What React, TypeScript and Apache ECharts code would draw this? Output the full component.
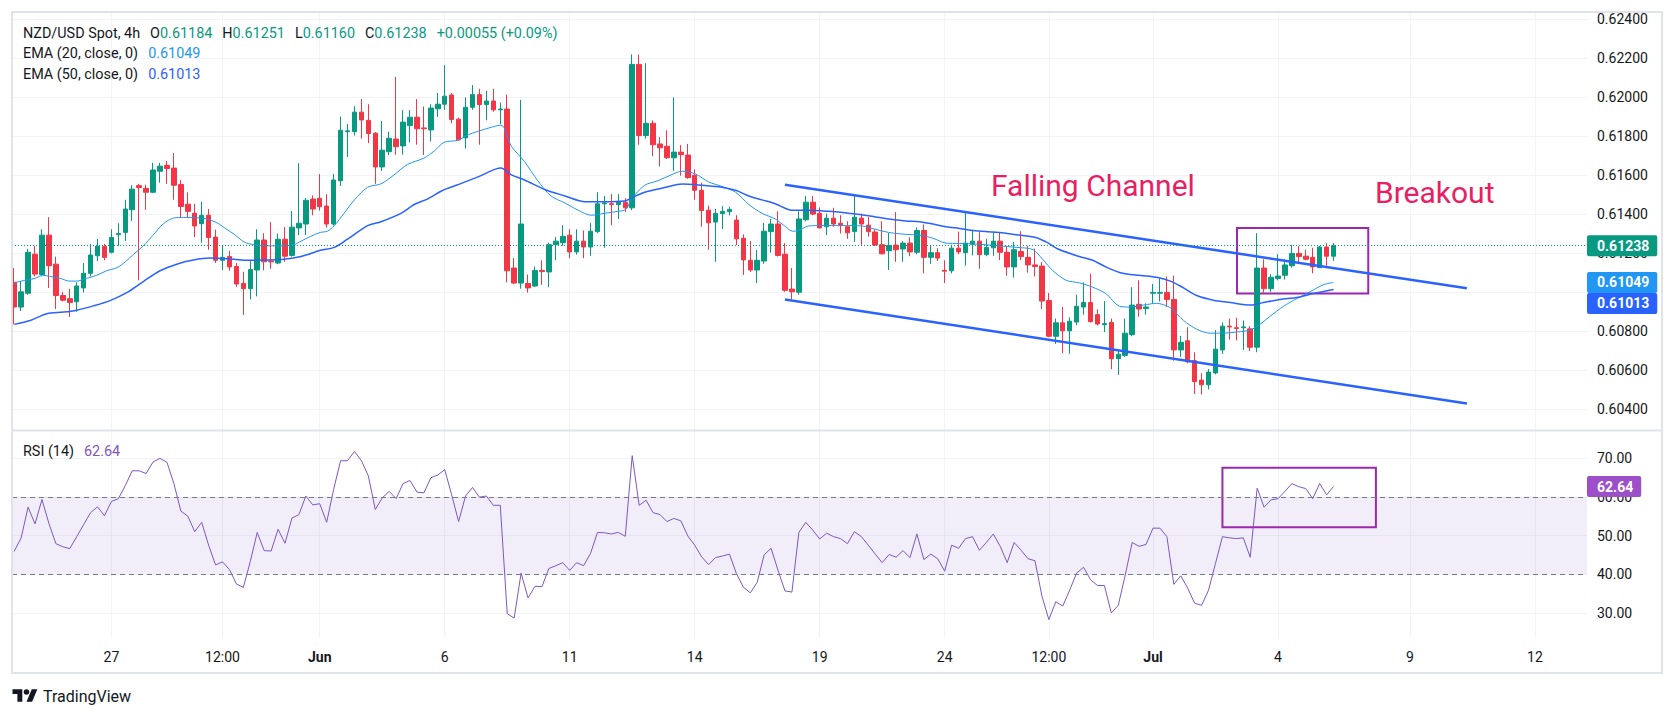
import React, { useEffect, useRef } from 'react';
import * as echarts from 'echarts';

const FONT = 'Roboto, "Noto Sans", "DejaVu Sans", sans-serif';
const UP = '#089981';
const DOWN = '#f23645';
const TXT = '#131722';
const GRIDC = '#f0f3fa';

const opens = [
  0.61050,0.60923,0.60994,0.61194,0.61090,0.61292,0.61143,0.60982,0.60966,0.60950,
  0.61021,0.61096,0.61186,0.61235,0.61204,0.61294,0.61306,0.61422,0.61546,0.61532,
  0.61512,0.61620,0.61650,0.61636,0.61552,0.61451,0.61404,0.61351,0.61394,0.61282,
  0.61163,0.61182,0.61131,0.61044,0.61017,0.61113,0.61267,0.61159,0.61149,0.61271,
  0.61188,0.61329,0.61349,0.61477,0.61481,0.61441,0.61349,0.61571,0.61823,0.61823,
  0.61923,0.61881,0.61815,0.61642,0.61720,0.61785,0.61750,0.61854,0.61897,0.61842,
  0.61832,0.61940,0.61964,0.62011,0.61887,0.61791,0.61948,0.62013,0.61962,0.61980,
  0.61935,0.61939,0.61123,0.61046,0.61044,0.61031,0.61111,0.61103,0.61243,0.61253,
  0.61292,0.61206,0.61261,0.61231,0.61310,0.61453,0.61453,0.61449,0.61461,0.61432,
  0.62168,0.61803,0.61866,0.61760,0.61748,0.61689,0.61718,0.61703,0.61599,0.61522,
  0.61420,0.61359,0.61402,0.61412,0.61369,0.61276,0.61163,0.61113,0.61159,0.61310,
  0.61349,0.61194,0.61015,0.60999,0.61371,0.61461,0.61404,0.61335,0.61379,0.61353,
  0.61335,0.61310,0.61379,0.61343,0.61308,0.61243,0.61212,0.61241,0.61221,0.61251,
  0.61204,0.61316,0.61178,0.61202,0.61111,0.61109,0.61225,0.61202,0.61245,0.61261,
  0.61192,0.61227,0.61261,0.61204,0.61129,0.61208,0.61178,0.61139,0.61133,0.60956,
  0.60773,0.60842,0.60801,0.60846,0.60923,0.60946,0.60884,0.60832,0.60844,0.60658,
  0.60675,0.60781,0.60937,0.60915,0.60994,0.60994,0.60998,0.60962,0.60703,0.60750,
  0.60648,0.60548,0.60524,0.60585,0.60703,0.60825,0.60817,0.60817,0.60811,0.60717,
  0.61123,0.61017,0.61070,0.61086,0.61135,0.61198,0.61184,0.61178,0.61125,0.61231,
  0.61184,
];
const closes = [
  0.60923,0.61001,0.61204,0.61092,0.61292,0.61135,0.60982,0.60958,0.60946,0.61031,
  0.61096,0.61190,0.61235,0.61178,0.61280,0.61300,0.61426,0.61528,0.61536,0.61512,
  0.61626,0.61646,0.61634,0.61548,0.61439,0.61414,0.61339,0.61394,0.61280,0.61163,
  0.61178,0.61129,0.61041,0.61017,0.61115,0.61267,0.61155,0.61155,0.61271,0.61184,
  0.61333,0.61353,0.61471,0.61426,0.61438,0.61349,0.61575,0.61830,0.61827,0.61923,
  0.61883,0.61813,0.61642,0.61728,0.61789,0.61746,0.61872,0.61897,0.61838,0.61838,
  0.61944,0.61964,0.62005,0.61885,0.61781,0.61948,0.62013,0.61962,0.61980,0.61935,
  0.61939,0.61109,0.61046,0.61349,0.61021,0.61111,0.61105,0.61243,0.61261,0.61286,
  0.61206,0.61261,0.61231,0.61312,0.61453,0.61457,0.61449,0.61461,0.61432,0.62168,
  0.61803,0.61866,0.61756,0.61740,0.61689,0.61718,0.61705,0.61587,0.61522,0.61418,
  0.61355,0.61404,0.61414,0.61424,0.61273,0.61165,0.61113,0.61163,0.61312,0.61349,
  0.61188,0.61009,0.61001,0.61375,0.61461,0.61400,0.61329,0.61379,0.61349,0.61341,
  0.61304,0.61384,0.61349,0.61310,0.61241,0.61196,0.61239,0.61217,0.61251,0.61206,
  0.61316,0.61178,0.61202,0.61174,0.61107,0.61225,0.61206,0.61251,0.61261,0.61192,
  0.61229,0.61261,0.61204,0.61129,0.61217,0.61182,0.61139,0.61131,0.60954,0.60773,
  0.60842,0.60801,0.60850,0.60927,0.60946,0.60848,0.60836,0.60838,0.60658,0.60681,
  0.60789,0.60933,0.60913,0.60923,0.60998,0.60998,0.60962,0.60703,0.60742,0.60642,
  0.60540,0.60524,0.60589,0.60707,0.60825,0.60821,0.60813,0.60821,0.60717,0.61123,
  0.61017,0.61076,0.61082,0.61139,0.61198,0.61182,0.61168,0.61129,0.61231,0.61184,
  0.61238,
];
const highs = [
  0.61123,0.61056,0.61222,0.61237,0.61322,0.61384,0.61182,0.61001,0.61017,0.61050,
  0.61149,0.61247,0.61272,0.61247,0.61322,0.61353,0.61473,0.61548,0.61555,0.61551,
  0.61663,0.61663,0.61673,0.61713,0.61575,0.61512,0.61453,0.61463,0.61426,0.61320,
  0.61237,0.61212,0.61149,0.61104,0.61159,0.61322,0.61302,0.61359,0.61300,0.61333,
  0.61416,0.61661,0.61483,0.61496,0.61605,0.61502,0.61606,0.61901,0.61862,0.61954,
  0.61990,0.61964,0.61821,0.61878,0.61823,0.62104,0.61933,0.61933,0.61990,0.61952,
  0.61964,0.62021,0.62164,0.62021,0.61895,0.61999,0.62062,0.62043,0.62033,0.62043,
  0.61972,0.62013,0.61174,0.61986,0.61090,0.61131,0.61163,0.61253,0.61282,0.61343,
  0.61322,0.61322,0.61316,0.61355,0.61512,0.61493,0.61502,0.61502,0.61481,0.62219,
  0.62219,0.62174,0.61881,0.61795,0.61830,0.61999,0.61754,0.61760,0.61630,0.61561,
  0.61443,0.61426,0.61441,0.61437,0.61394,0.61296,0.61261,0.61216,0.61355,0.61375,
  0.61414,0.61251,0.61123,0.61414,0.61493,0.61493,0.61434,0.61402,0.61432,0.61394,
  0.61363,0.61496,0.61402,0.61384,0.61322,0.61363,0.61302,0.61410,0.61261,0.61280,
  0.61332,0.61347,0.61237,0.61225,0.61163,0.61243,0.61310,0.61410,0.61320,0.61308,
  0.61273,0.61310,0.61306,0.61237,0.61257,0.61312,0.61237,0.61223,0.61153,0.60995,
  0.60864,0.60923,0.60870,0.60986,0.61050,0.61094,0.60911,0.60954,0.60864,0.60697,
  0.60864,0.61025,0.61060,0.60942,0.61041,0.61070,0.61080,0.61084,0.60775,0.60819,
  0.60691,0.60583,0.60605,0.60805,0.60844,0.60864,0.60868,0.60854,0.60825,0.61302,
  0.61168,0.61092,0.61194,0.61168,0.61241,0.61235,0.61218,0.61227,0.61237,0.61251,
  0.61251,
];
const lows = [
  0.60834,0.60903,0.60986,0.61080,0.61080,0.61021,0.60913,0.60952,0.60872,0.60899,
  0.60997,0.61080,0.61159,0.61163,0.61198,0.61237,0.61261,0.61365,0.61060,0.61422,
  0.61508,0.61561,0.61555,0.61473,0.61379,0.61384,0.61282,0.61253,0.61217,0.61149,
  0.61113,0.61109,0.61027,0.60883,0.60962,0.60978,0.61111,0.61119,0.61143,0.61155,
  0.61182,0.61292,0.61292,0.61394,0.61418,0.61331,0.61341,0.61544,0.61693,0.61803,
  0.61787,0.61764,0.61555,0.61622,0.61703,0.61705,0.61705,0.61768,0.61756,0.61703,
  0.61773,0.61899,0.61935,0.61866,0.61777,0.61736,0.61935,0.61756,0.61881,0.61925,
  0.61862,0.61050,0.61041,0.61017,0.60997,0.61025,0.61037,0.61025,0.61163,0.61237,
  0.61174,0.61192,0.61174,0.61186,0.61302,0.61227,0.61343,0.61375,0.61410,0.61420,
  0.61756,0.61787,0.61697,0.61644,0.61683,0.61622,0.61597,0.61581,0.61473,0.61335,
  0.61217,0.61155,0.61324,0.61394,0.61241,0.61088,0.61103,0.61046,0.61145,0.61202,
  0.61182,0.61001,0.60962,0.60986,0.61363,0.61394,0.61326,0.61292,0.61335,0.61300,
  0.61273,0.61257,0.61237,0.61284,0.61237,0.61194,0.61113,0.61155,0.61155,0.61184,
  0.61194,0.61096,0.61145,0.61159,0.61046,0.61096,0.61194,0.61135,0.61188,0.61119,
  0.61184,0.61186,0.61164,0.61084,0.61074,0.61163,0.61100,0.61080,0.60913,0.60768,
  0.60734,0.60687,0.60683,0.60829,0.60884,0.60844,0.60829,0.60795,0.60604,0.60575,
  0.60667,0.60773,0.60874,0.60884,0.60942,0.60952,0.60923,0.60648,0.60667,0.60634,
  0.60477,0.60475,0.60500,0.60577,0.60683,0.60756,0.60752,0.60703,0.60697,0.60691,
  0.60992,0.61001,0.61060,0.61064,0.61125,0.61149,0.61163,0.61096,0.61123,0.61129,
  0.61160,
];

const rsiValues = [
  45.9,49.4,57.3,53.0,59.3,53.1,47.9,47.1,46.6,49.7,52.8,55.9,57.4,55.1,58.8,59.5,62.9,66.7,66.7,66.0,
  69.0,69.9,68.9,63.4,56.3,55.0,51.0,53.4,47.5,42.4,43.2,41.2,37.5,
  36.6,43.3,50.8,46.1,46.0,51.6,48.0,54.5,55.4,60.2,57.9,58.2,53.4,61.9,69.3,69.3,71.7,69.3,65.4,56.7,
  59.7,61.4,59.5,63.4,64.2,61.2,61.0,64.9,65.6,67.0,60.5,53.6,
  60.2,62.4,59.9,60.2,57.8,57.8,29.8,28.7,40.3,33.9,36.9,36.8,41.5,42.2,43.0,41.0,43.0,42.2,45.4,50.8,
  50.7,50.4,50.8,49.8,70.6,57.8,59.1,55.9,55.4,53.6,54.4,53.8,
  49.9,47.5,44.5,42.5,44.3,44.7,45.2,40.2,36.7,35.2,37.9,45.0,46.7,41.0,35.7,35.4,50.8,53.4,51.4,49.1,
  50.6,49.7,49.2,47.9,51.0,49.7,47.5,45.2,43.0,45.1,44.4,46.1,44.3,
  50.4,43.8,45.2,44.0,40.8,47.5,46.7,49.2,49.7,46.2,48.2,50.4,47.2,43.0,48.2,46.2,44.0,43.5,34.4,28.3,
  32.9,31.8,35.9,40.3,41.8,38.6,37.1,37.1,30.0,32.0,39.8,48.2,
  47.2,47.7,51.9,51.9,49.7,37.4,39.6,36.4,32.5,32.0,35.9,42.8,49.7,49.4,49.2,49.4,44.4,62.2,57.3,59.2,
  59.5,61.4,63.4,62.6,62.1,59.5,63.4,60.5,62.64,
];

const ema20Points = [
  [0,0.61047],[1,0.61056],[3,0.61070],[4.1,0.61086],[5.1,0.61080],[6.6,0.61070],[8,0.61056],[9,0.61056],
  [10.4,0.61070],[11.9,0.61086],[13.3,0.61109],[14.8,0.61125],[16,0.61155],[17.2,0.61194],[18.6,0.61237],
  [20,0.61292],[21.5,0.61351],[22.9,0.61379],[24.4,0.61383],[26.3,0.61381],[27.7,0.61375],[29.2,0.61355],
  [30.6,0.61322],[31.7,0.61296],[33.1,0.61257],[34.5,0.61243],[36.5,0.61237],[38.4,0.61237],[40.3,0.61243],
  [41.3,0.61261],[42.7,0.61286],[44.1,0.61306],[45.1,0.61312],[46.1,0.61341],[47.5,0.61404],[49,0.61473],
  [50.9,0.61538],[52.8,0.61555],[54.7,0.61601],[56.6,0.61654],[59,0.61687],[60.5,0.61724],[61.9,0.61768],
  [63.9,0.61779],[65.4,0.61807],[67.8,0.61836],[70.1,0.61856],[71.6,0.61748],[73.5,0.61669],[75.4,0.61571],
  [77.3,0.61493],[79.3,0.61457],[81.2,0.61420],[83.1,0.61394],[85,0.61404],[86.9,0.61414],[88.1,0.61424],
  [88.9,0.61477],[90.8,0.61548],[92.7,0.61571],[94.6,0.61601],[96.2,0.61620],[98.1,0.61606],[100,0.61565],
  [101.9,0.61542],[103.9,0.61512],[105.8,0.61449],[107.7,0.61404],[109.6,0.61375],[111.1,0.61335],
  [112.1,0.61312],[113,0.61316],[114.4,0.61339],[116.3,0.61341],[119.2,0.61341],[122.1,0.61339],
  [124,0.61322],[125.9,0.61306],[128.4,0.61296],[130.4,0.61292],[132.3,0.61276],[134.2,0.61251],
  [136.1,0.61249],[138,0.61247],[139.9,0.61243],[141.9,0.61237],[144.3,0.61229],[146.7,0.61218],
  [148.1,0.61168],[149.6,0.61109],[151.5,0.61060],[153.4,0.61047],[155.3,0.61025],[157.2,0.60992],
  [159.2,0.60927],[160.7,0.60923],[162.6,0.60933],[164.5,0.60942],[166.5,0.60919],[168.4,0.60854],
  [170.3,0.60809],[172.2,0.60789],[174.1,0.60789],[176.1,0.60795],[178,0.60805],[179.4,0.60834],
  [180.8,0.60874],[182.8,0.60927],[184.7,0.60966],[186.6,0.61001],[188.5,0.61037],[190,0.61049],
];
const ema50Points = [
  [0,0.60834],[2.3,0.60854],[4.7,0.60889],[7.1,0.60897],[9,0.60907],[11.4,0.60929],[13.8,0.60956],
  [16.2,0.60997],[18.6,0.61054],[21,0.61109],[23.4,0.61143],[25.8,0.61164],[28.2,0.61174],[30.1,0.61172],
  [31.7,0.61168],[33.6,0.61163],[36.5,0.61164],[38.9,0.61168],[41.3,0.61182],[44.1,0.61214],[46.1,0.61229],
  [48,0.61271],[50.9,0.61341],[52.8,0.61361],[55.7,0.61404],[57.6,0.61449],[59.5,0.61477],[61.4,0.61516],
  [62.4,0.61532],[64.5,0.61559],[66.8,0.61591],[70.1,0.61636],[71.6,0.61601],[73.5,0.61575],[76.4,0.61526],
  [79.3,0.61493],[82.2,0.61463],[85,0.61463],[87.9,0.61467],[88.9,0.61483],[90.8,0.61512],[93.7,0.61536],
  [96.2,0.61555],[99.1,0.61548],[101.9,0.61538],[103.9,0.61522],[105.8,0.61493],[107.7,0.61473],
  [109.6,0.61453],[112,0.61420],[114.4,0.61420],[117.3,0.61414],[120.2,0.61404],[123,0.61391],
  [125.9,0.61375],[128.4,0.61365],[130.4,0.61361],[132.3,0.61349],[134.2,0.61335],[136.1,0.61326],
  [138,0.61316],[139.9,0.61310],[141.9,0.61306],[144.3,0.61294],[147.1,0.61280],[148.6,0.61257],
  [150.5,0.61218],[153.4,0.61182],[155.3,0.61163],[157.2,0.61129],[159.2,0.61100],[160.7,0.61090],
  [162.6,0.61084],[164.5,0.61076],[166.5,0.61056],[168.4,0.61021],[170.3,0.60982],[172.7,0.60958],
  [175.1,0.60946],[178.1,0.60933],[179.9,0.60946],[182.3,0.60962],[184.7,0.60972],[187.1,0.60992],
  [190,0.61013],
];

const priceTicks = [0.604,0.606,0.608,0.61,0.612,0.614,0.616,0.618,0.62,0.622,0.624];
const rsiTicks = [30,40,50,60,70];
const timeTickPos = [14,30,44,62,80,98,116,134,149,164,182,201,219];
const timeTickLabels = ['27','12:00','Jun','6','11','14','19','24','12:00','Jul','4','9','12'];
const monthLabels = ['Jun','Jul'];

const channelUpper = [[111, 0.61551],[209.2, 0.61019]];
const channelLower = [[111, 0.60962],[209.2, 0.60428]];
const breakoutBox = [[176.1, 0.61329],[195.0, 0.60992]];
const rsiBox = [[174.0, 67.5],[196.1, 52.1]];
const rsiBand = [40, 60];

const ema20Last = 0.61049;
const ema50Last = 0.61013;
const changeText = '+0.00055 (+0.09%)';

echarts.graphic.registerShape(
  'tvlogo',
  echarts.graphic.extendPath('M14 22H7V11H0V4h14v18zM28 22h-8l7.5-18h8L28 22zM24 8a4 4 0 1 1 -8 0a4 4 0 1 1 8 0z', {})
);

const XMIN = -0.317;
const XMAX = 226.5;

function buildOption() {
  const n = closes.length;
  const candles = closes.map((c, i) => [i, opens[i], c, lows[i], highs[i]]);
  const rsiData = rsiValues.map((v, i) => [i, v]);
  const lastO = opens[n - 1], lastH = highs[n - 1], lastL = lows[n - 1], lastC = closes[n - 1];
  const lastRsi = rsiValues[n - 1];

  const boxLabel = (text: string, bg: string, extra: any = {}) => ({
    show: true,
    position: 'end',
    distance: 0,
    formatter: text,
    color: '#ffffff',
    backgroundColor: bg,
    fontWeight: 'bold',
    fontSize: 14,
    fontFamily: FONT,
    padding: [4, 8, 3, 10],
    borderRadius: 2,
    ...extra,
  });

  const xAxisBase = (gridIndex: number, showLabel: boolean) => ({
    gridIndex,
    type: 'value',
    min: XMIN,
    max: XMAX,
    axisLine: { show: false },
    axisTick: { show: false, customValues: timeTickPos },
    axisLabel: {
      show: showLabel,
      customValues: timeTickPos,
      margin: 12,
      fontSize: 14,
      fontFamily: FONT,
      color: TXT,
      formatter: (v: number) => {
        const k = timeTickPos.indexOf(Math.round(v));
        if (k < 0) return '';
        const t = timeTickLabels[k];
        return monthLabels.includes(t) ? `{b|${t}}` : t;
      },
      rich: { b: { fontWeight: 'bold', fontSize: 14, fontFamily: FONT, color: TXT } },
    },
    splitLine: { show: true, lineStyle: { color: GRIDC, width: 1 } },
  });

  const HF = 14.4;
  const headerRich = {
    t: { fill: TXT, fontSize: HF, fontFamily: FONT },
    v: { fill: UP, fontSize: HF, fontFamily: FONT },
    e1: { fill: '#2196f3', fontSize: HF, fontFamily: FONT },
    e2: { fill: '#2962ff', fontSize: HF, fontFamily: FONT },
    r: { fill: '#7e57c2', fontSize: HF, fontFamily: FONT },
    s: { width: 10, fontSize: HF },
  };

  return {
    animation: false,
    backgroundColor: '#ffffff',
    grid: [
      { left: 12, top: 12, width: 1575, height: 418, outerBoundsMode: 'none' },
      { left: 12, top: 431, width: 1575, height: 207, outerBoundsMode: 'none' },
    ],
    xAxis: [xAxisBase(0, false), xAxisBase(1, true)],
    yAxis: [
      {
        gridIndex: 0,
        type: 'value',
        position: 'right',
        min: 0.60292,
        max: 0.62437,
        axisLine: { show: false },
        axisTick: { show: false, customValues: priceTicks },
        axisLabel: {
          customValues: priceTicks,
          formatter: (v: number) => v.toFixed(5),
          margin: 10,
          fontSize: 14,
          fontFamily: FONT,
          color: TXT,
        },
        splitLine: { show: true, lineStyle: { color: GRIDC, width: 1 } },
      },
      {
        gridIndex: 1,
        type: 'value',
        position: 'right',
        min: 23.55,
        max: 76.97,
        axisLine: { show: false },
        axisTick: { show: false, customValues: rsiTicks },
        axisLabel: {
          customValues: rsiTicks,
          formatter: (v: number) => v.toFixed(2),
          margin: 10,
          fontSize: 14,
          fontFamily: FONT,
          color: TXT,
        },
        splitLine: { show: true, lineStyle: { color: GRIDC, width: 1 } },
      },
    ],
    series: [
      {
        type: 'candlestick',
        xAxisIndex: 0,
        yAxisIndex: 0,
        data: candles,
        encode: { x: 0, y: [1, 2, 3, 4] },
        barWidth: 5,
        itemStyle: {
          color: UP,
          color0: DOWN,
          borderColor: UP,
          borderColor0: DOWN,
          borderWidth: 1,
        },
        z: 3,
        markLine: {
          symbol: 'none',
          silent: true,
          precision: 5,
          animation: false,
          data: [
            [
              { coord: channelUpper[0], lineStyle: { color: '#2962ff', width: 2.5, type: 'solid' }, label: { show: false } },
              { coord: channelUpper[1] },
            ],
            [
              { coord: channelLower[0], lineStyle: { color: '#2962ff', width: 2.5, type: 'solid' }, label: { show: false } },
              { coord: channelLower[1] },
            ],
          ],
        },
        markArea: {
          silent: true,
          data: [
            [
              { coord: breakoutBox[0], itemStyle: { color: 'rgba(0,0,0,0)', borderColor: '#9c27b0', borderWidth: 2 } },
              { coord: breakoutBox[1] },
            ],
          ],
        },
      },
      {
        type: 'line',
        name: 'EMA20',
        xAxisIndex: 0,
        yAxisIndex: 0,
        data: ema20Points,
        showSymbol: false,
        smooth: 0.3,
        lineStyle: { color: '#2196f3', width: 1 },
        z: 4,
        markLine: {
          symbol: 'none',
          silent: true,
          precision: 5,
          data: [
            {
              yAxis: lastC,
              lineStyle: { type: [1, 2], color: UP, width: 1 },
              label: boxLabel(lastC.toFixed(5), UP),
            },
            {
              yAxis: ema20Last,
              lineStyle: { color: 'rgba(0,0,0,0)', width: 0 },
              label: boxLabel(ema20Last.toFixed(5), '#2196f3'),
            },
          ],
        },
      },
      {
        type: 'line',
        name: 'EMA50',
        xAxisIndex: 0,
        yAxisIndex: 0,
        data: ema50Points,
        showSymbol: false,
        smooth: 0.3,
        lineStyle: { color: '#2962ff', width: 1.5 },
        z: 4,
        markLine: {
          symbol: 'none',
          silent: true,
          precision: 5,
          data: [
            {
              yAxis: ema50Last,
              lineStyle: { color: 'rgba(0,0,0,0)', width: 0 },
              label: boxLabel(ema50Last.toFixed(5), '#2962ff', { offset: [0, 14] }),
            },
          ],
        },
      },
      {
        type: 'line',
        name: 'RSI',
        xAxisIndex: 1,
        yAxisIndex: 1,
        data: rsiData,
        showSymbol: false,
        lineStyle: { color: '#7e57c2', width: 1 },
        z: 4,
        markLine: {
          symbol: 'none',
          silent: true,
          precision: 2,
          data: [
            { yAxis: rsiBand[0], lineStyle: { color: '#787b86', type: [5, 4], width: 1 }, label: { show: false } },
            { yAxis: rsiBand[1], lineStyle: { color: '#787b86', type: [5, 4], width: 1 }, label: { show: false } },
            {
              yAxis: lastRsi,
              lineStyle: { color: 'rgba(0,0,0,0)', width: 0 },
              label: boxLabel(lastRsi.toFixed(2), '#9c4fc9'),
            },
          ],
        },
        markArea: {
          silent: true,
          data: [
            [{ yAxis: rsiBand[0], itemStyle: { color: 'rgba(126,87,194,0.1)' } }, { yAxis: rsiBand[1] }],
            [
              { coord: rsiBox[0], itemStyle: { color: 'rgba(0,0,0,0)', borderColor: '#9c27b0', borderWidth: 2 } },
              { coord: rsiBox[1] },
            ],
          ],
        },
      },
    ],
    graphic: [
      {
        type: 'rect',
        silent: true,
        shape: { x: 12, y: 12, width: 1650, height: 661 },
        style: { fill: 'none', stroke: '#e0e3eb', lineWidth: 2 },
        z: 100,
      },
      {
        type: 'line',
        silent: true,
        shape: { x1: 12, y1: 430.5, x2: 1662, y2: 430.5 },
        style: { stroke: '#e0e3eb', lineWidth: 2 },
        z: 100,
      },
      {
        type: 'text',
        x: 23,
        y: 33,
        z: 100,
        style: {
          text:
            `{t|NZD/USD Spot, 4h}{s| }{t|O}{v|${lastO.toFixed(5)}}{s| }{t|H}{v|${lastH.toFixed(5)}}{s| }` +
            `{t|L}{v|${lastL.toFixed(5)}}{s| }{t|C}{v|${lastC.toFixed(5)}}{s| }{v|${changeText}}`,
          rich: headerRich,
          verticalAlign: 'middle',
        },
      },
      {
        type: 'text',
        x: 23,
        y: 53,
        z: 100,
        style: {
          text: `{t|EMA (20, close, 0)}{s| }{e1|${ema20Last.toFixed(5)}}`,
          rich: headerRich,
          verticalAlign: 'middle',
        },
      },
      {
        type: 'text',
        x: 23,
        y: 74,
        z: 100,
        style: {
          text: `{t|EMA (50, close, 0)}{s| }{e2|${ema50Last.toFixed(5)}}`,
          rich: headerRich,
          verticalAlign: 'middle',
        },
      },
      {
        type: 'text',
        x: 23,
        y: 451,
        z: 100,
        style: {
          text: `{t|RSI (14)}{s| }{r|${lastRsi.toFixed(2)}}`,
          rich: headerRich,
          verticalAlign: 'middle',
        },
      },
      {
        type: 'text',
        x: 991,
        y: 185,
        z: 100,
        style: { text: 'Falling Channel', fill: '#e91e63', fontSize: 30, fontFamily: FONT, verticalAlign: 'middle' },
      },
      {
        type: 'text',
        x: 1375,
        y: 192,
        z: 100,
        style: { text: 'Breakout', fill: '#e91e63', fontSize: 30, fontFamily: FONT, verticalAlign: 'middle' },
      },
      {
        type: 'tvlogo',
        x: 12.5,
        y: 686.4,
        scaleX: 0.7,
        scaleY: 0.7,
        z: 100,
        style: { fill: TXT },
      },
      {
        type: 'text',
        x: 43,
        y: 696,
        z: 100,
        style: { text: 'TradingView', fill: TXT, fontSize: 16, fontFamily: FONT, verticalAlign: 'middle' },
      },
    ],
  };
}

export default function App() {
  const ref = useRef<HTMLDivElement>(null);
  useEffect(() => {
    if (!ref.current) return;
    const chart = echarts.init(ref.current, null, { renderer: 'svg' });
    chart.setOption(buildOption() as any);
    return () => {
      chart.dispose();
    };
  }, []);
  return (
    <div
      ref={ref}
      style={{ position: 'absolute', left: 0, top: 0, width: 1675, height: 718, background: '#ffffff' }}
    />
  );
}
